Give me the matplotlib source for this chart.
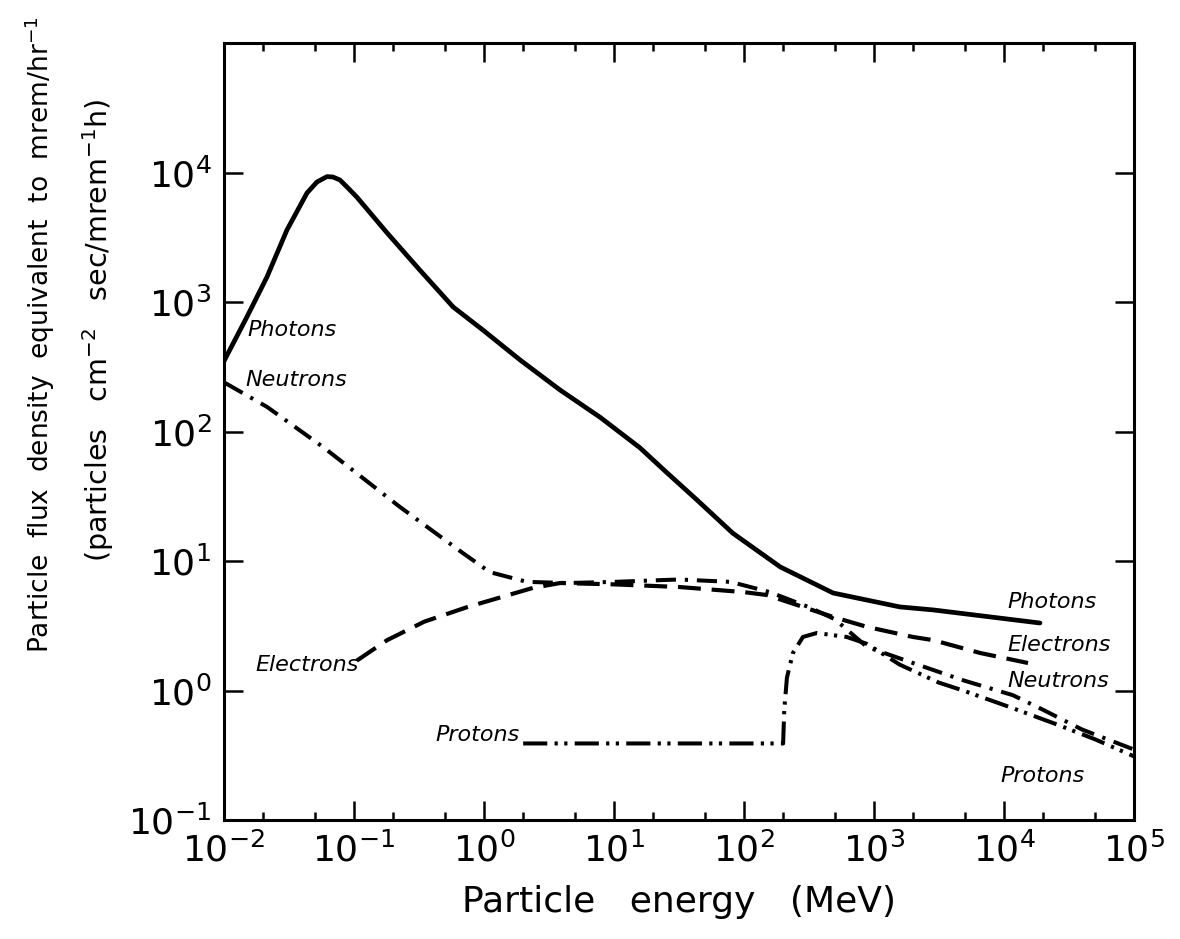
import matplotlib
matplotlib.use('Agg')
import matplotlib.pyplot as plt
from matplotlib.ticker import LogLocator, NullLocator, NullFormatter

plt.rcParams['font.family'] = 'DejaVu Sans'
plt.rcParams['mathtext.default'] = 'regular'

# data (energy in MeV, flux density)
photon_energy = [0.01, 0.015, 0.0214, 0.0305, 0.0435, 0.0519, 0.062, 0.0689, 0.078, 0.0883,
                 0.105, 0.18, 0.32, 0.58, 0.98, 1.9, 3.85, 7.8, 15.8, 25, 43.5, 82, 190,
                 485, 1580, 2850, 18900]
photon_flux = [350, 766, 1560, 3600, 6950, 8450, 9300, 9230, 8750, 7730,
               6470, 3410, 1770, 914, 608, 356, 209, 129, 75, 49, 29.6, 16.4, 9.0,
               5.66, 4.42, 4.19, 3.32]

neutron_energy = [0.0102, 0.0214, 0.0578, 0.226, 0.689, 1.11, 2.14, 4.35, 10, 31.6, 79,
                  158, 316, 500, 883, 1995, 4840, 11700, 19950, 39800, 100000]
neutron_flux = [237, 155, 75.9, 26.1, 11.5, 8.2, 6.9, 6.76, 6.9, 7.2, 6.9,
                5.75, 4.4, 3.55, 2.17, 1.63, 1.2, 0.92, 0.71, 0.5, 0.35]

electron_energy = [0.105, 0.18, 0.347, 0.74, 2.38, 3.85, 10, 31.6, 100, 150, 484, 883,
                   1995, 2845, 6530, 15300]
electron_flux = [1.7, 2.45, 3.4, 4.4, 6.2, 6.76, 6.6, 6.3, 5.75, 5.46, 3.7, 3.1,
                 2.59, 2.45, 1.95, 1.63]

proton_energy = [2.0, 200, 204, 214, 238, 284, 363, 617, 883, 1585, 3160, 4840,
                 11700, 25100, 50100, 100000]
proton_flux = [0.39, 0.39, 0.71, 1.26, 1.95, 2.59, 2.78, 2.59, 2.29, 1.58, 1.15, 1.0,
               0.73, 0.55, 0.42, 0.31]

fig = plt.figure(figsize=(11.8, 9.39), dpi=100)
ax = fig.add_axes([224 / 1180, 1 - 820 / 939, 910 / 1180, 777 / 939])

ax.plot(photon_energy, photon_flux, color='black', lw=3.4,
        solid_capstyle='round', solid_joinstyle='round')
ax.plot(neutron_energy, neutron_flux, color='black', lw=2.9,
        linestyle=(0, (5, 2.2, 0.8, 2.2)))
ax.plot(electron_energy, electron_flux, color='black', lw=3.0,
        linestyle=(0, (5.5, 2.6)))
ax.plot(proton_energy, proton_flux, color='black', lw=2.9,
        linestyle=(0, (6, 1.8, 0.8, 1.6, 0.8, 1.8)))

ax.set_xscale('log')
ax.set_yscale('log')
ax.set_xlim(1e-2, 1e5)
ax.set_ylim(1e-1, 1e5)
ax.set_yticks([1e-1, 1, 1e1, 1e2, 1e3, 1e4])
ax.xaxis.set_minor_locator(LogLocator(base=10, subs=(2, 5)))
ax.xaxis.set_minor_formatter(NullFormatter())
ax.yaxis.set_minor_locator(NullLocator())

ax.tick_params(which='both', direction='in', top=True, right=True, width=1.8)
ax.tick_params(which='major', length=14, labelsize=26, pad=9)
ax.tick_params(which='minor', length=6)
for s in ax.spines.values():
    s.set_linewidth(2.2)

# curve labels
lab = dict(fontsize=16, style='italic', va='center')
ax.text(0.01503, 608, 'Photons', ha='left', **lab)
ax.text(0.0145, 250, 'Neutrons', ha='left', **lab)
ax.text(0.0173, 1.57, 'Electrons', ha='left', **lab)
ax.text(1.89, 0.45, 'Protons', ha='right', **lab)
ax.text(10540, 4.82, 'Photons', ha='left', **lab)
ax.text(10700, 2.24, 'Electrons', ha='left', **lab)
ax.text(10700, 1.18, 'Neutrons', ha='left', **lab)
ax.text(9330, 0.22, 'Protons', ha='left', **lab)

ax.set_xlabel('Particle   energy   (MeV)', fontsize=26, labelpad=12)

fig.text(40 / 1180, 1 - 335 / 939, r'Particle  flux  density  equivalent  to  mrem/hr$^{-1}$',
         rotation=90, fontsize=19, ha='center', va='center')
fig.text(98 / 1180, 1 - 330 / 939, r'(particles   cm$^{-2}$   sec/mrem$^{-1}$h)',
         rotation=90, fontsize=20.5, ha='center', va='center')

fig.savefig('out.png', dpi=100)
